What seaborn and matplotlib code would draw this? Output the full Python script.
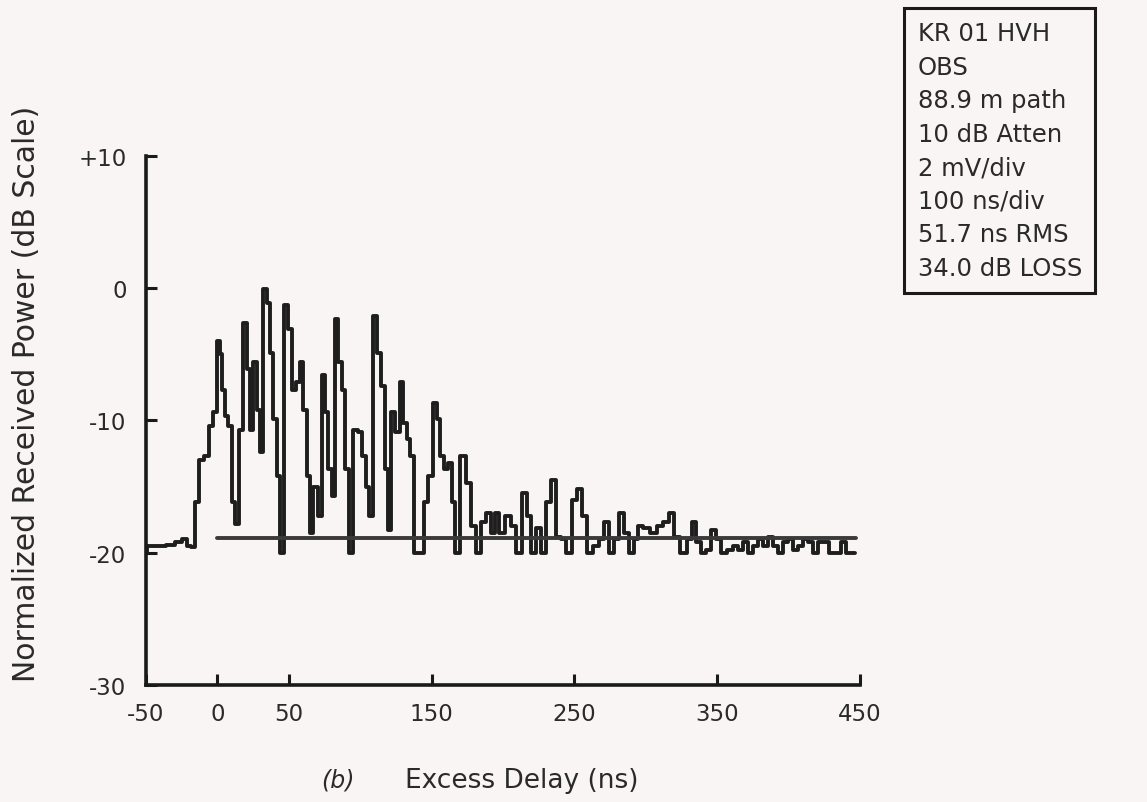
import seaborn as sns
import matplotlib.pyplot as plt
import pandas as pd

# excess delay (ns) and normalized received power (dB)
delay_ns = [-50, -48, -40, -32, -27, -23, -20, -17, -14.5, -11, -7.5, -4, -1.7,
            0.6, 2.5, 4.1, 6.4, 8.8, 11.1, 13.4, 16.9, 19.3, 21.6, 24, 26.3,
            28.6, 31, 33.3, 35.6, 38, 40.3, 42.6, 45, 48.5, 50.8, 53.2, 56.7,
            59, 61.3, 63.7, 66, 68.4, 71.9, 74.2, 76.5, 78.9, 81.2, 83.6, 85.9,
            88.3, 90.6, 93.4, 96.4, 99.9, 102.7, 105.1, 107.4, 110.4, 112.8,
            115.8, 118.6, 121, 122.8, 126.1, 129.1, 131.5, 133.8, 136.2, 138.5,
            143.2, 145.5, 149, 152.5, 154.9, 157.2, 160.3, 163.1, 165.4, 168,
            172.2, 175.7, 179.2, 182.7, 186.2, 189.7, 193.2, 196, 199, 203.7,
            207.2, 210.7, 215.3, 217.7, 221.2, 224.7, 228.2, 231.7, 235.3,
            238.7, 242.2, 245.7, 250.4, 253.9, 257.4, 260.9, 265.6, 269.1,
            272.6, 276.1, 279.6, 283.1, 286.6, 290.1, 293.6, 296, 300.6, 305.3,
            310, 314.6, 318.1, 321.6, 326.3, 331, 333.3, 336.8, 340.3, 343.8,
            347.3, 350.8, 354.3, 359, 362.5, 366, 369.5, 373, 376.5, 380, 383.5,
            387, 390.5, 394, 397.5, 401, 404.5, 408, 411.5, 415, 418.5, 422,
            426.7, 430.2, 434.9, 438.4, 441.9, 446.6]
power_db = [-20, -19.5, -19.5, -19.4, -19.2, -19.0, -19.5, -19.6, -16.2, -13,
            -12.7, -10.4, -9.4, -4.0, -5.0, -7.7, -9.7, -10.4, -16.2, -17.8,
            -10.7, -2.6, -6.1, -10.7, -5.6, -9.2, -12.4, -0.1, -1.1, -4.9,
            -9.9, -14.2, -20, -1.3, -3.1, -7.7, -7.1, -5.6, -9.2, -14.2, -18.5,
            -15, -17.2, -6.6, -9.4, -13.7, -15.7, -2.3, -5.6, -7.7, -13.7, -20,
            -10.7, -10.9, -12.7, -15, -17.2, -2.1, -4.9, -7.4, -13.7, -18.3,
            -9.4, -10.9, -7.1, -10.2, -11.4, -12.7, -20, -20, -16.2, -14.2,
            -8.7, -9.9, -12.7, -13.7, -13.2, -16.2, -20, -12.7, -14.7, -18,
            -20, -17.7, -17, -18.5, -17, -18.5, -17.2, -18, -20, -15.5, -17.2,
            -20, -18.1, -20, -16.2, -14.5, -18.8, -19, -20, -16, -15.2, -17.2,
            -20, -19.5, -19, -17.7, -20, -19, -17, -18.5, -20, -19, -18, -18.1,
            -18.5, -18, -17.7, -17, -18.8, -20, -19, -17.7, -19.2, -20, -19.8,
            -18.3, -19, -20, -19.8, -19.5, -19.8, -19.2, -20, -19.5, -19,
            -19.5, -18.8, -19.5, -20, -19.2, -19, -19.8, -19.5, -19, -19.2,
            -20, -19.2, -19.2, -20, -20, -19.2, -20, -20]

threshold_db = -18.9
threshold_span = [0, 447]

x_ticks = [-50, 0, 50, 150, 250, 350, 450]
y_ticks = [10, 0, -10, -20, -30]
y_tick_labels = ['+10', '0', '-10', '-20', '-30']

info_lines = ['KR 01 HVH', 'OBS', '88.9 m path', '10 dB Atten', '2 mV/div',
              '100 ns/div', '51.7 ns RMS', '34.0 dB LOSS']

sns.set_style('white')
plt.rcParams['font.family'] = ['DejaVu Sans']
plt.rcParams['axes.unicode_minus'] = False

paper = '#f9f5f5'
ink = '#2a2a2a'

fig = plt.figure(figsize=(11.47, 8.03), dpi=100, facecolor=paper)
ax = fig.add_axes([0.1273, 0.1457, 0.6225, 0.659])
ax.set_facecolor(paper)

df = pd.DataFrame({'delay': delay_ns, 'power': power_db})
sns.lineplot(data=df, x='delay', y='power', ax=ax, color='#1e1e1e',
             linewidth=2.8, drawstyle='steps-mid', estimator=None, sort=False)
ax.plot(threshold_span, [threshold_db, threshold_db], color='#3a3a3a', linewidth=2.8)

ax.set_xlim(-50, 450)
ax.set_ylim(-30, 10)
ax.set_xticks(x_ticks)
ax.set_yticks(y_ticks)
ax.set_yticklabels(y_tick_labels)

for side in ['top', 'right']:
    ax.spines[side].set_visible(False)
for side in ['left', 'bottom']:
    ax.spines[side].set_color('#1a1a1a')
    ax.spines[side].set_linewidth(2.6)

ax.tick_params(axis='both', direction='in', length=8, width=2.2, colors='#1a1a1a',
               labelcolor=ink, labelsize=16.5, bottom=True, left=True)
ax.tick_params(axis='y', pad=14)
ax.tick_params(axis='x', pad=12)

ax.set_xlabel('')
ax.set_ylabel('')
fig.text(0.023, 0.51, 'Normalized Received Power (dB Scale)', rotation=90,
         ha='center', va='center', fontsize=21.5, color=ink)
fig.text(0.295, 0.028, '(b)', ha='center', va='center', fontsize=17,
         style='italic', color=ink)
fig.text(0.455, 0.028, 'Excess Delay (ns)', ha='center', va='center',
         fontsize=19, color=ink)

fig.text(0.800, 0.972, '\n'.join(info_lines), ha='left', va='top', fontsize=17.5,
         color=ink, linespacing=1.5,
         bbox=dict(boxstyle='square,pad=0.55', facecolor=paper,
                   edgecolor='#1a1a1a', linewidth=2.2))

fig.savefig('out.png', dpi=100, facecolor=paper)
